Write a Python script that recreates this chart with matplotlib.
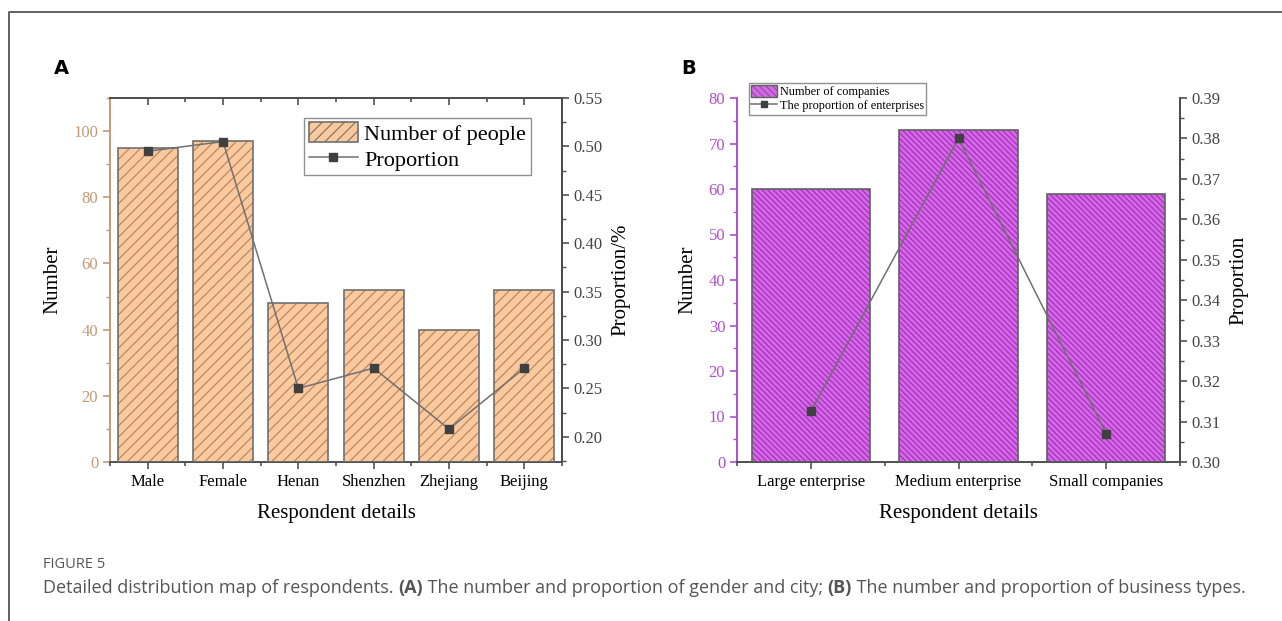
import numpy as np
import matplotlib
matplotlib.use('Agg')
import matplotlib.pyplot as plt
from matplotlib.lines import Line2D
from matplotlib.patches import Patch
from matplotlib.ticker import MultipleLocator, FixedLocator, FormatStrFormatter

plt.rcParams['font.family'] = 'Liberation Serif'

# Panel A data
cats_a = ['Male', 'Female', 'Henan', 'Shenzhen', 'Zhejiang', 'Beijing']
people = [95, 97, 48, 52, 40, 52]
prop_a = [0.495, 0.505, 0.25, 0.271, 0.208, 0.271]

# Panel B data
cats_b = ['Large enterprise', 'Medium enterprise', 'Small companies']
companies = [60, 73, 59]
prop_b = [0.3125, 0.380, 0.307]

tan = '#c49a74'
purple = '#b050d0'
dgray = '#505050'

fig = plt.figure(figsize=(12.82, 6.21), dpi=100)
fig.patch.set_facecolor('white')

W, H = 1282, 621


def box(l, t, r, b):
    return [l / W, 1 - b / H, (r - l) / W, (b - t) / H]


# ---------------- panel A ----------------
ax1 = fig.add_axes(box(110, 98, 562, 462))
xa = np.arange(len(cats_a))
plt.rcParams['hatch.linewidth'] = 0.8
ax1.bar(xa, people, width=0.8, color='#fbc99c', edgecolor='#b08262',
        hatch='///', linewidth=0, zorder=2)
ax1.bar(xa, people, width=0.8, facecolor='none', edgecolor='#707070',
        linewidth=1.2, zorder=3)
ax1.set_xlim(-0.5, 5.5)
ax1.set_ylim(0, 110)
ax1.set_xticks(xa)
ax1.set_xticklabels(cats_a, fontsize=12)
ax1.xaxis.set_minor_locator(FixedLocator(np.arange(-0.5, 6, 1)))
ax1.yaxis.set_major_locator(MultipleLocator(20))
ax1.yaxis.set_minor_locator(MultipleLocator(10))
ax1.tick_params(axis='y', colors=tan, labelsize=12, length=5, width=1.2)
ax1.tick_params(axis='y', which='minor', colors=tan, length=3, width=1)
ax1.tick_params(axis='x', which='both', direction='out',
                colors=dgray, labelcolor='black', width=1.2)
ax1.tick_params(axis='x', which='major', length=5)
ax1.tick_params(axis='x', which='minor', length=3)
ax1.spines['left'].set_color(tan)
for s in ['bottom', 'top']:
    ax1.spines[s].set_color(dgray)
for s in ax1.spines.values():
    s.set_linewidth(1.4)
ax1.set_ylabel('Number', fontsize=15, labelpad=8)
ax1.set_xlabel('Respondent details', fontsize=15, labelpad=10)

# top ticks point inward
ax1b = ax1.secondary_xaxis('top')
ax1b.set_xticks(xa)
ax1b.xaxis.set_minor_locator(FixedLocator(np.arange(-0.5, 6, 1)))
ax1b.tick_params(which='both', direction='in', labeltop=False,
                 colors=dgray, width=1.2)
ax1b.tick_params(which='major', length=5)
ax1b.tick_params(which='minor', length=3)
ax1b.spines['top'].set_color(dgray)
ax1b.spines['top'].set_linewidth(1.4)

ax1r = ax1.twinx()
ax1r.plot(xa, prop_a, color='#707070', linewidth=1.1, marker='s',
          markersize=6, markerfacecolor='#404040', markeredgecolor='#404040')
ax1r.set_ylim(0.174, 0.55)
ax1r.yaxis.set_major_locator(MultipleLocator(0.05))
ax1r.yaxis.set_minor_locator(MultipleLocator(0.025))
ax1r.yaxis.set_major_formatter(FormatStrFormatter('%.2f'))
ax1r.tick_params(axis='y', colors=dgray, labelsize=12, length=5, width=1.2)
ax1r.tick_params(axis='y', which='minor', colors=dgray, length=3, width=1)
ax1r.tick_params(axis='y', labelcolor='#444444')
ax1r.spines['right'].set_color(dgray)
ax1r.spines['right'].set_linewidth(1.4)
for s in ['left', 'top', 'bottom']:
    ax1r.spines[s].set_visible(False)
ax1r.set_ylabel('Proportion/%', fontsize=15, labelpad=6)

h_a = [Patch(facecolor='#fbc99c', edgecolor='#707070', hatch='///',
             linewidth=1.2),
       Line2D([], [], color='#707070', linewidth=1.1, marker='s',
              markersize=6, markerfacecolor='#404040',
              markeredgecolor='#404040')]
leg = ax1r.legend(h_a, ['Number of people', 'Proportion'], loc='upper left',
                  bbox_to_anchor=(0.43, 0.945), fontsize=16, frameon=True,
                  fancybox=False, edgecolor='#909090', framealpha=1,
                  borderpad=0.2, handlelength=2.2, handleheight=1.0,
                  handletextpad=0.3, labelspacing=0.15, borderaxespad=0)
leg.get_frame().set_linewidth(1.0)

# ---------------- panel B ----------------
ax2 = fig.add_axes(box(737, 98, 1180, 462))
xb = np.arange(len(cats_b))
plt.rcParams['hatch.linewidth'] = 0.6
ax2.bar(xb, companies, width=0.8, color='#da62ee', edgecolor='#7a2e90',
        hatch='\\\\\\\\\\\\', linewidth=0, zorder=2)
ax2.bar(xb, companies, width=0.8, facecolor='none', edgecolor='#606060',
        linewidth=1.2, zorder=3)
ax2.set_xlim(-0.5, 2.5)
ax2.set_ylim(0, 80)
ax2.set_xticks(xb)
ax2.set_xticklabels(cats_b, fontsize=12)
ax2.xaxis.set_minor_locator(FixedLocator(np.arange(-0.5, 3, 1)))
ax2.yaxis.set_major_locator(MultipleLocator(10))
ax2.yaxis.set_minor_locator(MultipleLocator(5))
ax2.tick_params(axis='y', colors=purple, labelsize=12, length=5, width=1.2)
ax2.tick_params(axis='y', which='minor', colors=purple, length=3, width=1)
ax2.tick_params(axis='x', which='both', colors=dgray, labelcolor='black',
                width=1.2)
ax2.tick_params(axis='x', which='major', length=5)
ax2.tick_params(axis='x', which='minor', length=3)
ax2.spines['left'].set_color(purple)
ax2.spines['bottom'].set_color(dgray)
ax2.spines['top'].set_visible(False)
for s in ax2.spines.values():
    s.set_linewidth(1.4)
ax2.set_ylabel('Number', fontsize=15, labelpad=8)
ax2.set_xlabel('Respondent details', fontsize=15, labelpad=10)

ax2r = ax2.twinx()
ax2r.plot(xb, prop_b, color='#707070', linewidth=1.1, marker='s',
          markersize=6, markerfacecolor='#404040', markeredgecolor='#404040')
ax2r.set_ylim(0.30, 0.39)
ax2r.yaxis.set_major_locator(MultipleLocator(0.01))
ax2r.yaxis.set_minor_locator(MultipleLocator(0.005))
ax2r.yaxis.set_major_formatter(FormatStrFormatter('%.2f'))
ax2r.tick_params(axis='y', colors=dgray, labelsize=12, length=5, width=1.2)
ax2r.tick_params(axis='y', which='minor', colors=dgray, length=3, width=1)
ax2r.tick_params(axis='y', labelcolor='#444444')
ax2r.spines['right'].set_color(dgray)
ax2r.spines['right'].set_linewidth(1.4)
for s in ['left', 'top', 'bottom']:
    ax2r.spines[s].set_visible(False)
ax2r.set_ylabel('Proportion', fontsize=15, labelpad=6)

h_b = [Patch(facecolor='#da62ee', edgecolor='#606060', hatch='\\\\\\\\\\',
             linewidth=1.0),
       Line2D([], [], color='#707070', linewidth=1.1, marker='s',
              markersize=5, markerfacecolor='#404040',
              markeredgecolor='#404040')]
leg2 = ax2r.legend(h_b, ['Number of companies', 'The proportion of enterprises'],
                   loc='upper left', bbox_to_anchor=(0.027, 1.042),
                   fontsize=8.8, frameon=True, fancybox=False,
                   edgecolor='#909090', framealpha=1, borderpad=0.2,
                   handlelength=2.1, handleheight=1.1, handletextpad=0.2,
                   labelspacing=0.1, borderaxespad=0)
leg2.get_frame().set_linewidth(1.0)

# panel letters
fig.text(54 / W, 1 - 68 / H, 'A', fontsize=14, fontweight='bold',
         family='DejaVu Sans', va='center')
fig.text(681 / W, 1 - 68 / H, 'B', fontsize=14, fontweight='bold',
         family='DejaVu Sans', va='center')

# border
fig.add_artist(Line2D([9 / W, 9 / W, 1], [0, 1 - 12 / H, 1 - 12 / H],
                      color='#555555', linewidth=1.3))

# caption
fig.text(43 / W, 1 - 565 / H, 'FIGURE 5', fontsize=10.5, color='#555555',
         family='Open Sans', va='center')
parts = [('Detailed distribution map of respondents. ', 'normal'),
         ('(A)', 'bold'),
         (' The number and proportion of gender and city; ', 'normal'),
         ('(B)', 'bold'),
         (' The number and proportion of business types.', 'normal')]
fig.canvas.draw()
r = fig.canvas.get_renderer()
x = 43 / W
for txt, wt in parts:
    t = fig.text(x, 1 - 588 / H, txt, fontsize=13.0, color='#555555',
                 family='Open Sans', fontweight=wt, va='center')
    bb = t.get_window_extent(renderer=r)
    x += bb.width / W

fig.savefig('out.png', dpi=100)
